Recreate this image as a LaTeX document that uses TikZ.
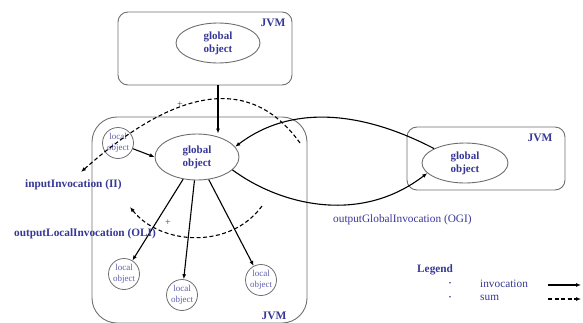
\documentclass[tikz,border=0pt]{standalone}
\usepackage{fontspec}
\setmainfont{Liberation Serif}
\usetikzlibrary{arrows.meta,shapes.geometric}
\definecolor{jblue}{RGB}{55,55,150}
\definecolor{lblue}{RGB}{95,95,175}
\definecolor{edge}{RGB}{110,110,110}
\tikzset{
  jvmbox/.style={draw=edge, line width=0.9pt, rounded corners=10pt, inner sep=0pt},
  globobj/.style={ellipse, draw=edge, line width=0.9pt, inner sep=0pt, align=center,
    text=jblue, font=\fontsize{11}{13}\selectfont\bfseries},
  locobj/.style={circle, draw=edge, line width=0.8pt, inner sep=0pt, minimum size=31pt,
    align=center, text=lblue, font=\fontsize{9}{10.5}\selectfont},
  jvmlabel/.style={text=jblue, font=\fontsize{11.5}{12}\selectfont\bfseries, inner sep=0pt},
  lbl/.style={text=jblue, font=\fontsize{11.3}{12}\selectfont, inner sep=0pt, anchor=west},
  boldlbl/.style={lbl, font=\fontsize{11.3}{12}\selectfont\bfseries},
  plussign/.style={text=jblue, font=\fontsize{10}{10}\selectfont, inner sep=0pt},
  inv/.style={line width=1.1pt, -{Latex[length=5pt,width=4pt]}},
  summ/.style={line width=1.1pt, dash pattern=on 4pt off 2.5pt, -{Latex[length=5pt,width=4pt]}}
}
\begin{document}
\begin{tikzpicture}[x=1pt,y=-1pt]
\useasboundingbox (0,0) rectangle (583,322);

% JVM containers
\node[jvmbox, minimum width=174pt, minimum height=73pt] (topbox) at (205,48.5) {};
\node[jvmbox, rounded corners=25pt, minimum width=215pt, minimum height=206pt] (midbox) at (199.5,220) {};
\node[jvmbox, minimum width=158pt, minimum height=63pt] (rbox) at (486,158.5) {};
\node[jvmlabel] (jvmtop) at (273,23) {JVM};
\node[jvmlabel] (jvmmid) at (274,316) {JVM};
\node[jvmlabel] (jvmr) at (540,138) {JVM};

% global objects
\node[globobj, minimum width=84pt, minimum height=40pt] (topglob) at (218,43) {global\\object};
\node[globobj, minimum width=84pt, minimum height=46pt] (midglob) at (197,157) {global\\object};
\node[globobj, minimum width=86pt, minimum height=40pt] (rglob) at (465,163) {global\\object};

% local objects
\node[locobj] (loc0) at (118,143) {local\\object};
\node[locobj] (loc1) at (124,274) {local\\object};
\node[locobj] (loc2) at (182,295) {local\\object};
\node[locobj] (loc3) at (261,280) {local\\object};

% invocations
\draw[inv] (topglob |- topbox.south) -- (topglob |- midglob.north);
\draw[inv] (loc0) -- (midglob.west);
\draw[inv] (midglob) -- (loc1);
\draw[inv] (midglob) -- (loc2);
\draw[inv] (midglob) -- (loc3);
\draw[inv] (rglob.155) .. controls (360,110) and (290,105) .. (midglob.15);
\draw[inv] (midglob.-20) .. controls (280,205) and (360,225) .. (rglob.195);

% sums
\coordinate (s1a) at (300,143);
\coordinate (s1b) at (81,172);
\coordinate (s2a) at (262,206);
\coordinate (s2b) at (130,207);
\draw[summ] (s1a) .. controls (255,80) and (185,80) .. (s1b);
\draw[summ] (s2a) .. controls (230,250) and (160,245) .. (s2b);
\node[plussign] (plus1) at (180,105) {+};
\node[plussign] (plus2) at (168,223) {+};

% labels
\node[boldlbl] (ii) at (25,185) {inputInvocation (II)};
\node[boldlbl] (oli) at (14,234) {outputLocalInvocation (OLI)};
\node[lbl] (ogi) at (333,220) {outputGlobalInvocation (OGI)};

% legend
\node[boldlbl] (leg) at (417,270) {Legend};
\node[plussign, font=\fontsize{7}{7}\selectfont] (b1) at (450,284) {\textbullet};
\node[plussign, font=\fontsize{7}{7}\selectfont] (b2) at (450,298) {\textbullet};
\node[lbl] (linv) at (480,284) {invocation};
\node[lbl] (lsum) at (480,298) {sum};
\coordinate (la1) at (548,285);
\coordinate (la2) at (581,285);
\coordinate (lb1) at (548,299);
\coordinate (lb2) at (581,299);
\draw[inv] (la1) -- (la2);
\draw[summ] (lb1) -- (lb2);
\end{tikzpicture}
\end{document}
